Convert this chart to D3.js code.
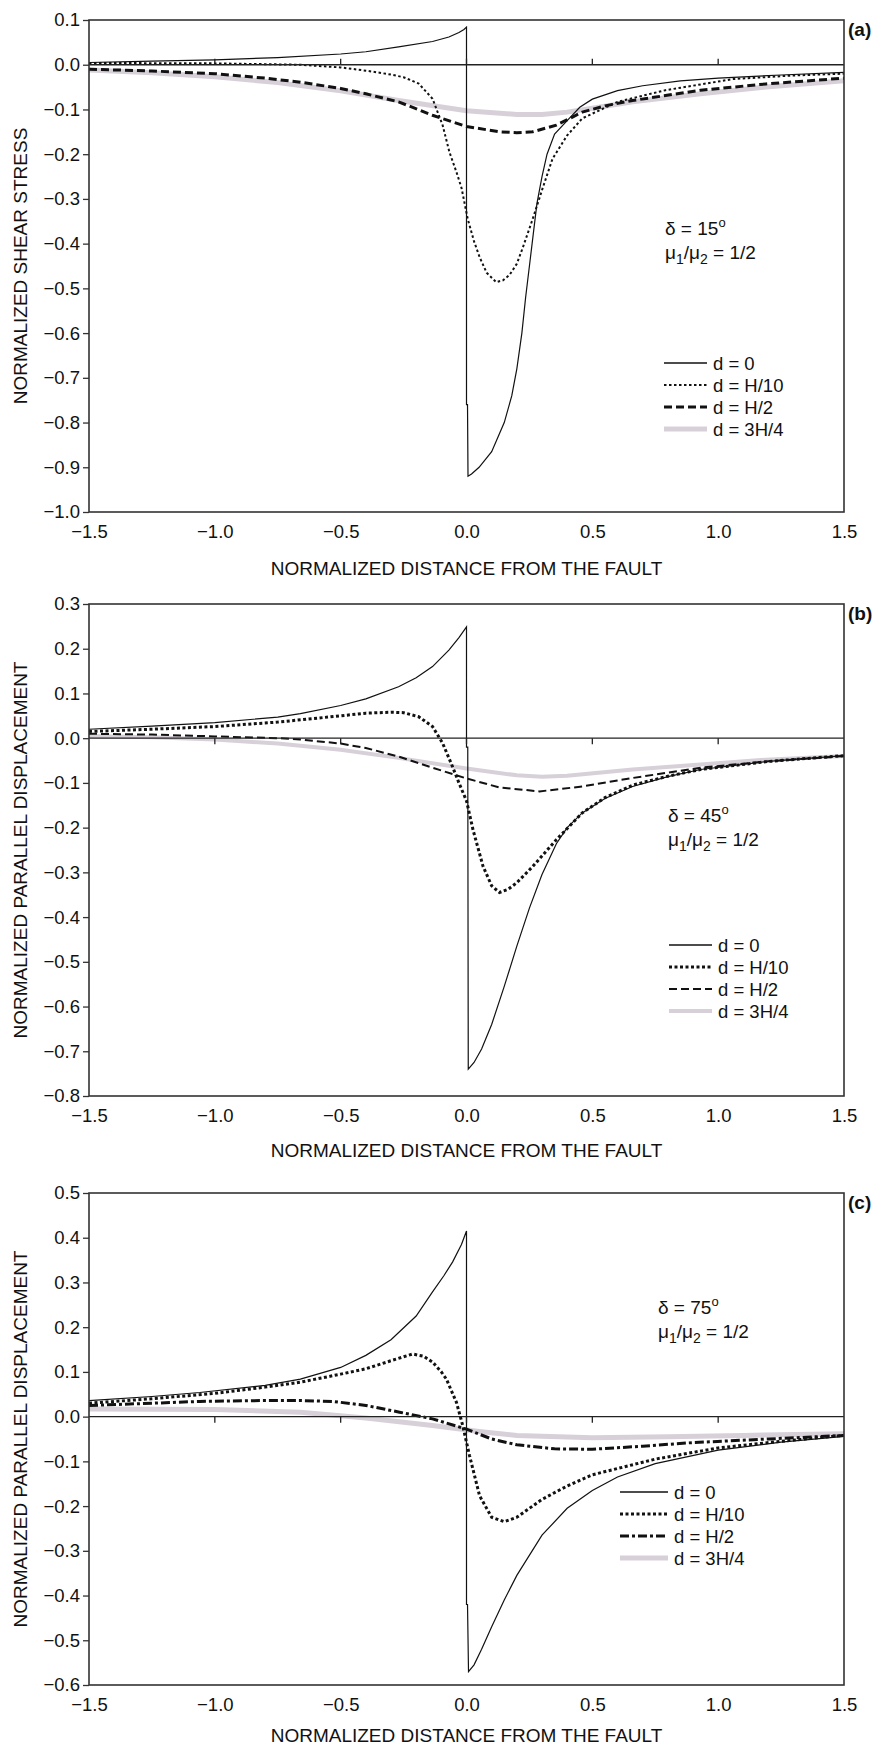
<!DOCTYPE html>
<html>
<head>
<meta charset="utf-8">
<script src="https://cdn.jsdelivr.net/npm/d3@7"></script>
<style>
  body { margin: 0; background: #fff; }
  text { font-family: 'Liberation Sans', Arial, Helvetica, sans-serif; fill: #111; }
</style>
</head>
<body>
<script>
// x ticks shared by all three panels
const xTicks = [-1.5, -1.0, -0.5, 0.0, 0.5, 1.0, 1.5];
const seriesNames = ["d = 0", "d = H/10", "d = H/2", "d = 3H/4"];

// panel (a) normalized shear stress, delta = 15
const a_d0 = [[-1.5,0.005],[-1.25,0.008],[-1.0,0.011],[-0.75,0.016],[-0.5,0.024],[-0.4,0.029],[-0.27,0.04],[-0.135,0.052],[-0.07,0.062],[-0.03,0.072],[-0.01,0.079],[0,0.084],[0,-0.76],[0.004,-0.76],[0.006,-0.92],[0.02,-0.915],[0.05,-0.90],[0.1,-0.865],[0.15,-0.80],[0.18,-0.74],[0.2,-0.68],[0.22,-0.60],[0.235,-0.52],[0.25,-0.45],[0.265,-0.38],[0.28,-0.31],[0.3,-0.25],[0.32,-0.20],[0.35,-0.155],[0.4,-0.125],[0.45,-0.095],[0.5,-0.077],[0.6,-0.058],[0.7,-0.047],[0.85,-0.036],[1.0,-0.03],[1.25,-0.023],[1.5,-0.017]];
const a_h10 = [[-1.5,0.004],[-1.0,0.003],[-0.66,0.0],[-0.5,-0.006],[-0.39,-0.014],[-0.3,-0.022],[-0.25,-0.028],[-0.19,-0.042],[-0.135,-0.076],[-0.095,-0.135],[-0.068,-0.195],[-0.04,-0.24],[-0.02,-0.275],[0.005,-0.345],[0.03,-0.395],[0.052,-0.43],[0.08,-0.465],[0.118,-0.486],[0.145,-0.482],[0.171,-0.47],[0.2,-0.445],[0.223,-0.41],[0.263,-0.345],[0.302,-0.277],[0.342,-0.21],[0.4,-0.158],[0.46,-0.12],[0.6,-0.083],[0.79,-0.057],[1.06,-0.032],[1.3,-0.024],[1.5,-0.02]];
const a_h2 = [[-1.5,-0.01],[-1.25,-0.014],[-1.0,-0.02],[-0.8,-0.03],[-0.66,-0.039],[-0.5,-0.053],[-0.4,-0.065],[-0.27,-0.083],[-0.135,-0.113],[0,-0.138],[0.13,-0.15],[0.2,-0.152],[0.263,-0.15],[0.357,-0.135],[0.46,-0.106],[0.55,-0.092],[0.66,-0.08],[0.93,-0.057],[1.19,-0.043],[1.5,-0.03]];
const a_3h4 = [[-1.5,-0.012],[-1.25,-0.018],[-1.0,-0.027],[-0.75,-0.04],[-0.5,-0.058],[-0.27,-0.08],[0,-0.103],[0.2,-0.111],[0.3,-0.111],[0.4,-0.106],[0.55,-0.093],[0.66,-0.083],[0.93,-0.065],[1.19,-0.05],[1.5,-0.036]];

// panel (b) normalized parallel displacement, delta = 45
const b_d0 = [[-1.5,0.02],[-1.25,0.027],[-1.0,0.035],[-0.75,0.047],[-0.66,0.055],[-0.5,0.073],[-0.4,0.088],[-0.27,0.115],[-0.2,0.135],[-0.135,0.16],[-0.07,0.197],[-0.03,0.225],[0,0.249],[0,-0.02],[0.005,-0.02],[0.007,-0.74],[0.03,-0.725],[0.06,-0.695],[0.1,-0.64],[0.15,-0.555],[0.2,-0.465],[0.25,-0.38],[0.3,-0.305],[0.357,-0.236],[0.4,-0.2],[0.46,-0.167],[0.55,-0.135],[0.66,-0.108],[0.8,-0.086],[0.93,-0.07],[1.2,-0.052],[1.5,-0.039]];
const b_h10 = [[-1.5,0.015],[-1.25,0.02],[-1.0,0.026],[-0.75,0.036],[-0.5,0.05],[-0.4,0.056],[-0.3,0.058],[-0.25,0.057],[-0.19,0.048],[-0.135,0.026],[-0.095,-0.011],[-0.056,-0.063],[-0.03,-0.1],[0,-0.14],[0.026,-0.205],[0.066,-0.287],[0.1,-0.33],[0.131,-0.345],[0.165,-0.338],[0.2,-0.323],[0.263,-0.287],[0.357,-0.227],[0.46,-0.167],[0.55,-0.133],[0.66,-0.105],[0.8,-0.085],[0.93,-0.07],[1.2,-0.052],[1.5,-0.039]];
const b_h2 = [[-1.5,0.01],[-1.25,0.008],[-1.0,0.004],[-0.75,0.0],[-0.66,-0.003],[-0.5,-0.012],[-0.4,-0.022],[-0.27,-0.041],[-0.135,-0.066],[0,-0.09],[0.13,-0.11],[0.29,-0.119],[0.46,-0.108],[0.66,-0.089],[0.93,-0.066],[1.19,-0.052],[1.5,-0.04]];
const b_3h4 = [[-1.5,0.005],[-1.25,0.002],[-1.0,-0.003],[-0.75,-0.012],[-0.66,-0.017],[-0.5,-0.026],[-0.27,-0.044],[0,-0.068],[0.2,-0.083],[0.3,-0.086],[0.4,-0.084],[0.66,-0.07],[0.93,-0.059],[1.19,-0.048],[1.5,-0.04]];

// panel (c) normalized parallel displacement, delta = 75
const c_d0 = [[-1.5,0.036],[-1.25,0.045],[-1.06,0.054],[-0.8,0.07],[-0.66,0.084],[-0.5,0.11],[-0.4,0.137],[-0.3,0.172],[-0.2,0.225],[-0.135,0.279],[-0.09,0.315],[-0.055,0.346],[-0.02,0.385],[0,0.415],[0,-0.42],[0.004,-0.42],[0.008,-0.57],[0.03,-0.555],[0.06,-0.52],[0.1,-0.47],[0.15,-0.41],[0.2,-0.355],[0.3,-0.265],[0.4,-0.205],[0.5,-0.165],[0.6,-0.135],[0.75,-0.105],[1.0,-0.075],[1.25,-0.057],[1.5,-0.044]];
const c_h10 = [[-1.5,0.03],[-1.25,0.04],[-1.0,0.052],[-0.8,0.066],[-0.66,0.077],[-0.5,0.095],[-0.4,0.107],[-0.3,0.125],[-0.214,0.14],[-0.17,0.135],[-0.135,0.122],[-0.1,0.1],[-0.08,0.084],[-0.04,0.032],[-0.015,-0.02],[0.012,-0.087],[0.052,-0.177],[0.1,-0.225],[0.15,-0.235],[0.2,-0.225],[0.3,-0.185],[0.4,-0.155],[0.5,-0.13],[0.75,-0.095],[1.0,-0.07],[1.25,-0.055],[1.5,-0.042]];
const c_h2 = [[-1.5,0.025],[-1.25,0.03],[-1.06,0.034],[-0.8,0.036],[-0.66,0.036],[-0.53,0.034],[-0.4,0.025],[-0.266,0.01],[-0.135,-0.005],[0,-0.028],[0.1,-0.05],[0.2,-0.063],[0.35,-0.072],[0.5,-0.073],[0.7,-0.066],[0.9,-0.058],[1.2,-0.05],[1.5,-0.042]];
const c_3h4 = [[-1.5,0.017],[-1.0,0.016],[-0.66,0.01],[-0.4,-0.003],[-0.135,-0.02],[0.05,-0.033],[0.2,-0.042],[0.5,-0.047],[0.8,-0.045],[1.1,-0.042],[1.5,-0.038]];

const gray = "#d7d0d9";
const W = 875, H = 1749;
const left = 89, right = 844, ph = 492;
const font = "'Liberation Sans', Arial, Helvetica, sans-serif";

const panels = [
  { tag: "(a)", top: 20, yDom: [-1.0, 0.1], yTitle: "NORMALIZED SHEAR STRESS", angle: "15",
    data: [a_d0, a_h10, a_h2, a_3h4],
    styles: [
      { w: 1.2, c: "#111", dash: null },
      { w: 2, c: "#111", dash: "2.5,2.5" },
      { w: 3, c: "#111", dash: "8,4" },
      { w: 5, c: gray, dash: null }],
    legend: [664, 363, 43], note: [665, 228], tickDir: -1, titleOff: 63 },
  { tag: "(b)", top: 604, yDom: [-0.8, 0.3], yTitle: "NORMALIZED PARALLEL DISPLACEMENT", angle: "45",
    data: [b_d0, b_h10, b_h2, b_3h4],
    styles: [
      { w: 1.2, c: "#111", dash: null },
      { w: 3, c: "#111", dash: "3,2.5" },
      { w: 2, c: "#111", dash: "8,4" },
      { w: 4, c: gray, dash: null }],
    legend: [669, 945, 43], note: [668, 815], tickDir: 1, titleOff: 61 },
  { tag: "(c)", top: 1193, yDom: [-0.6, 0.5], yTitle: "NORMALIZED PARALLEL DISPLACEMENT", angle: "75",
    data: [c_d0, c_h10, c_h2, c_3h4],
    styles: [
      { w: 1.2, c: "#111", dash: null },
      { w: 3, c: "#111", dash: "3,2.5" },
      { w: 3, c: "#111", dash: "9,3,3,3" },
      { w: 5, c: gray, dash: null }],
    legend: [620, 1492, 48], note: [658, 1307], tickDir: 1, titleOff: 57 }
];

const svg = d3.select("body").append("svg")
  .attr("width", W).attr("height", H);

const x = d3.scaleLinear().domain([-1.5, 1.5]).range([left, right]);
const fmt = d3.format(".1f");

panels.forEach(function (p) {
  const y = d3.scaleLinear().domain(p.yDom).range([p.top + ph, p.top]);
  const g = svg.append("g");
  const yTicks = d3.range(12).map(i => +(p.yDom[0] + i * 0.1).toFixed(1));

  // curves (gray one first so it sits behind)
  const line = d3.line().x(d => x(d[0])).y(d => y(d[1]));
  [3, 2, 1, 0].forEach(function (i) {
    const s = p.styles[i];
    g.append("path")
      .datum(p.data[i])
      .attr("fill", "none")
      .attr("stroke", s.c)
      .attr("stroke-width", s.w)
      .attr("stroke-dasharray", s.dash)
      .attr("d", line);
  });

  // zero line with small ticks
  g.append("line")
    .attr("x1", x(-1.5)).attr("x2", x(1.5))
    .attr("y1", y(0)).attr("y2", y(0))
    .attr("stroke", "#222").attr("stroke-width", 1.3);
  g.selectAll(".zt").data(xTicks.slice(1, -1)).join("line")
    .attr("x1", d => x(d)).attr("x2", d => x(d))
    .attr("y1", y(0)).attr("y2", y(0) + p.tickDir * 6)
    .attr("stroke", "#222").attr("stroke-width", 1.3);

  // frame
  g.append("rect")
    .attr("x", left).attr("y", p.top)
    .attr("width", right - left).attr("height", ph)
    .attr("fill", "none").attr("stroke", "#333").attr("stroke-width", 1.6);

  // y axis
  const ya = g.append("g")
    .attr("transform", `translate(${left},0)`)
    .call(d3.axisLeft(y).tickValues(yTicks).tickFormat(fmt).tickSize(6).tickPadding(3));
  ya.select(".domain").remove();
  ya.selectAll("line").attr("stroke", "#333").attr("stroke-width", 1.3);
  ya.selectAll("text").style("font-size", "18.5px").style("font-family", font).attr("fill", "#111");

  // x axis labels under the frame
  const xa = g.append("g")
    .attr("transform", `translate(0,${p.top + ph})`)
    .call(d3.axisBottom(x).tickValues(xTicks).tickFormat(fmt).tickSize(0).tickPadding(13));
  xa.select(".domain").remove();
  xa.selectAll("text").style("font-size", "18.5px").style("font-family", font).attr("fill", "#111");

  // axis titles
  g.append("text")
    .attr("x", (left + right) / 2).attr("y", p.top + ph + p.titleOff)
    .attr("text-anchor", "middle")
    .style("font-size", "19px")
    .text("NORMALIZED DISTANCE FROM THE FAULT");
  g.append("text")
    .attr("transform", `translate(20,${p.top + ph / 2}) rotate(-90)`)
    .attr("text-anchor", "middle")
    .attr("dominant-baseline", "central")
    .style("font-size", "19px")
    .text(p.yTitle);

  // panel tag
  g.append("text")
    .attr("x", right + 4).attr("y", p.top + 16)
    .style("font-size", "19px").style("font-weight", "bold")
    .text(p.tag);

  // annotation
  const n1 = g.append("text").attr("x", p.note[0]).attr("y", p.note[1] + 7).style("font-size", "19px");
  n1.append("tspan").text("\u03b4 = " + p.angle);
  n1.append("tspan").attr("dy", -8).style("font-size", "13px").text("o");
  const n2 = g.append("text").attr("x", p.note[0]).attr("y", p.note[1] + 31).style("font-size", "19px");
  n2.append("tspan").text("\u03bc");
  n2.append("tspan").attr("dy", 5).style("font-size", "14px").text("1");
  n2.append("tspan").attr("dy", -5).text("/\u03bc");
  n2.append("tspan").attr("dy", 5).style("font-size", "14px").text("2");
  n2.append("tspan").attr("dy", -5).text(" = 1/2");

  // legend
  const len = p.legend[2];
  const lg = g.append("g").attr("transform", `translate(${p.legend[0]},${p.legend[1]})`);
  seriesNames.forEach(function (name, i) {
    const s = p.styles[i];
    lg.append("line")
      .attr("x1", 0).attr("x2", len).attr("y1", i * 22).attr("y2", i * 22)
      .attr("stroke", s.c).attr("stroke-width", i === 0 ? 1.5 : s.w)
      .attr("stroke-dasharray", s.dash);
    lg.append("text")
      .attr("x", len + 6).attr("y", i * 22)
      .attr("dominant-baseline", "central")
      .style("font-size", "18.5px")
      .text(name);
  });
});
</script>
</body>
</html>
